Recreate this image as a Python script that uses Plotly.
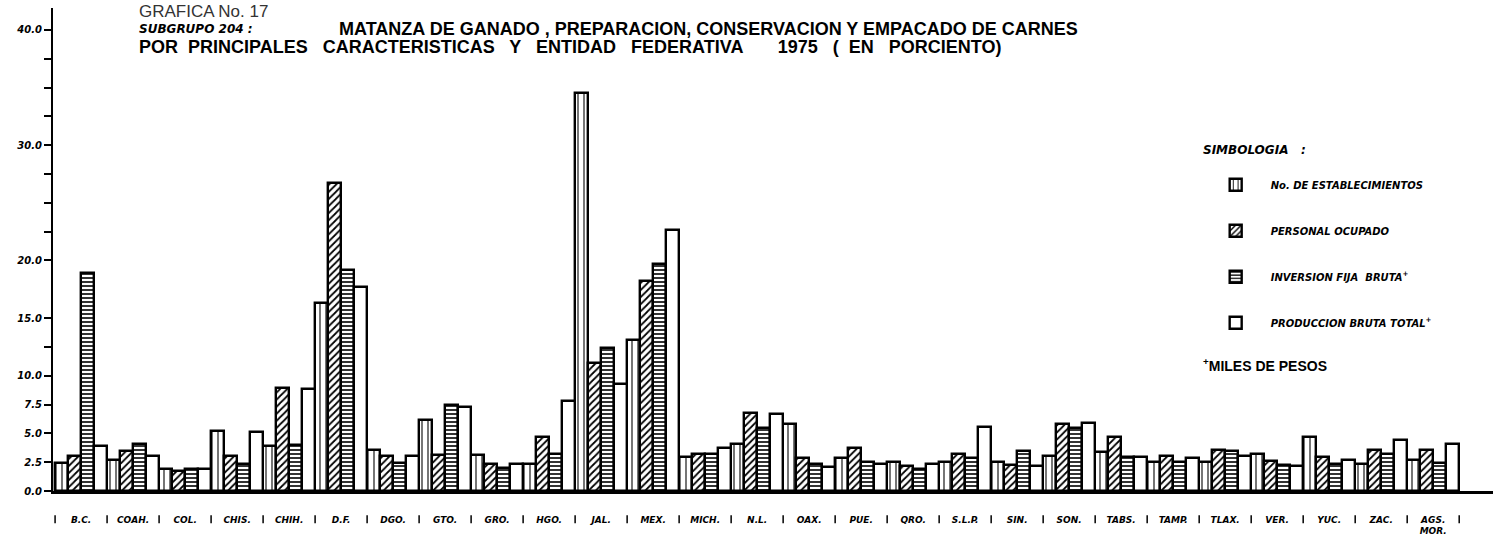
import plotly.graph_objects as go

# Entidades federativas (eje horizontal)
estados = ["B.C.", "COAH.", "COL.", "CHIS.", "CHIH.", "D.F.", "DGO.", "GTO.", "GRO.",
           "HGO.", "JAL.", "MEX.", "MICH.", "N.L.", "OAX.", "PUE.", "QRO.", "S.L.P.",
           "SIN.", "SON.", "TABS.", "TAMP.", "TLAX.", "VER.", "YUC.", "ZAC.", "AGS.<br>MOR."]

# Porcentajes por característica
establecimientos = [2.4, 2.7, 1.9, 5.2, 3.9, 16.3, 3.55, 6.15, 3.1, 2.35, 34.5, 13.1, 2.95, 4.1,
                    5.8, 2.85, 2.5, 2.5, 2.5, 3.0, 3.4, 2.55, 2.5, 3.2, 4.7, 2.3, 2.65]
personal = [3.0, 3.5, 1.75, 3.0, 8.9, 26.7, 3.05, 3.15, 2.3, 4.7, 11.1, 18.2, 3.2, 6.8,
            2.85, 3.7, 2.15, 3.2, 2.25, 5.85, 4.7, 3.05, 3.55, 2.6, 2.95, 3.55, 3.6]
inversion = [18.9, 4.1, 1.9, 2.3, 4.0, 19.2, 2.45, 7.45, 2.0, 3.25, 12.4, 19.7, 3.2, 5.45,
             2.35, 2.5, 1.9, 2.85, 3.5, 5.5, 2.95, 2.55, 3.5, 2.25, 2.3, 3.2, 2.45]
produccion = [3.9, 3.0, 1.9, 5.1, 8.85, 17.7, 3.05, 7.3, 2.3, 7.85, 9.3, 22.6, 3.75, 6.65,
              2.1, 2.35, 2.3, 5.55, 2.2, 5.9, 2.95, 2.85, 3.0, 2.15, 2.65, 4.45, 4.1]

# Escala vertical: marcas con rótulo y marcas intermedias
ytick_vals = [0, 2.5, 5, 7.5, 10, 15, 20, 30, 40]
ytick_text = ["0.0", "2.5", "5.0", "7.5", "10.0", "15.0", "20.0", "30.0", "40.0"]
ytick_minor = [12.5, 22.5, 25, 27.5, 32.5, 35, 37.5]

series = [
    ("No. DE ESTABLECIMIENTOS", establecimientos, "|", 6, 0.18),
    ("PERSONAL OCUPADO", personal, "/", 5, 0.35),
    ("INVERSION FIJA  BRUTA<sup>+</sup>", inversion, "-", 4, 0.4),
    ("PRODUCCION BRUTA TOTAL<sup>+</sup>", produccion, "", 8, 0.3),
]

fig = go.Figure()
for nombre, valores, forma, tam, sol in series:
    fig.add_trace(go.Bar(
        x=estados, y=valores, name=nombre, legendgroup=nombre,
        marker=dict(
            color="white",
            line=dict(color="black", width=2.4),
            pattern=dict(shape=forma, size=tam, solidity=sol, fgcolor="black",
                         bgcolor="white", fillmode="replace"),
        ),
    ))

fig.update_layout(
    width=1493, height=538,
    margin=dict(l=53, r=0, t=8, b=47),
    paper_bgcolor="white", plot_bgcolor="white",
    barmode="group", bargap=0, bargroupgap=0,
    font=dict(family="DejaVu Sans", color="black"),
    legend=dict(
        x=0.797, y=0.664, xanchor="left", yanchor="top",
        font=dict(size=10, weight="bold", style="italic"),
        tracegroupgap=27, itemwidth=60, bgcolor="rgba(0,0,0,0)",
    ),
)

fig.update_xaxes(
    range=[-0.54, 27.15], showline=True, linecolor="black", linewidth=2.5,
    ticks="", showgrid=False, zeroline=False, tickangle=0,
    tickfont=dict(size=9, weight="bold", style="italic"), ticklabelstandoff=18,
)
fig.update_yaxes(
    range=[0, 41.9], tickmode="array", tickvals=ytick_vals, ticktext=ytick_text,
    ticks="outside", ticklen=7, tickwidth=2, tickcolor="black",
    minor=dict(tickmode="array", tickvals=ytick_minor, ticks="outside", ticklen=7,
               tickwidth=2, tickcolor="black", showgrid=False),
    showline=True, linecolor="black", linewidth=2, showgrid=False, zeroline=False,
    tickfont=dict(size=10, weight="bold", style="italic"),
)

# Separadores entre entidades, debajo del eje
for i in range(len(estados) + 1):
    fig.add_shape(type="line", xref="x", yref="paper", x0=i - 0.5, x1=i - 0.5,
                  y0=-0.05, y1=-0.067, line=dict(color="black", width=1.5))

# Encabezado
fig.add_annotation(text="GRAFICA No. 17", xref="paper", yref="paper", x=0.058, y=0.9935,
                   xanchor="left", yanchor="middle", showarrow=False,
                   font=dict(family="Liberation Sans", size=17, color="#333"))
fig.add_annotation(text="SUBGRUPO 204 :", xref="paper", yref="paper", x=0.058, y=0.9565,
                   xanchor="left", yanchor="middle", showarrow=False,
                   font=dict(family="DejaVu Sans", size=12, weight="bold", style="italic"))
fig.add_annotation(text="MATANZA DE GANADO , PREPARACION, CONSERVACION Y EMPACADO DE CARNES",
                   xref="paper", yref="paper", x=0.197, y=0.9565, xanchor="left",
                   yanchor="middle", showarrow=False,
                   font=dict(family="Liberation Sans", size=18, weight="bold"))
fig.add_annotation(text="POR  PRINCIPALES   CARACTERISTICAS   Y   ENTIDAD   FEDERATIVA       1975   (  EN   PORCIENTO)",
                   xref="paper", yref="paper", x=0.058, y=0.919, xanchor="left",
                   yanchor="middle", showarrow=False,
                   font=dict(family="Liberation Sans", size=18, weight="bold"))

# Simbología: encabezado y nota
fig.add_annotation(text="SIMBOLOGIA   :", xref="paper", yref="paper", x=0.797, y=0.706,
                   xanchor="left", yanchor="middle", showarrow=False,
                   font=dict(size=12, weight="bold", style="italic"))
fig.add_annotation(text="<sup>+</sup>MILES DE PESOS", xref="paper", yref="paper",
                   x=0.797, y=0.26, xanchor="left", yanchor="middle", showarrow=False,
                   font=dict(family="Liberation Sans", size=14, weight="bold"))

fig.write_html("out.html")
